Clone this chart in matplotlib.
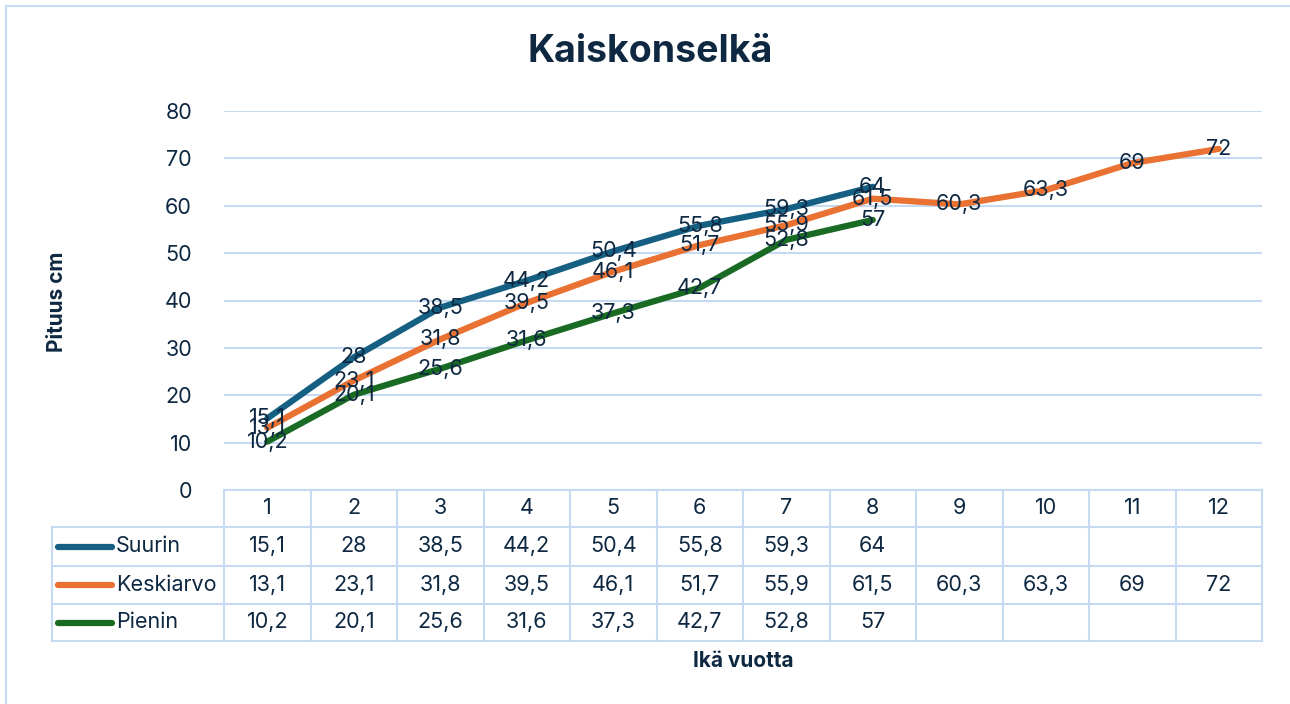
import matplotlib.pyplot as plt
from matplotlib.lines import Line2D
import matplotlib.transforms as mtransforms

# data
ages = [1, 2, 3, 4, 5, 6, 7, 8, 9, 10, 11, 12]
suurin = [15.1, 28, 38.5, 44.2, 50.4, 55.8, 59.3, 64]
keskiarvo = [13.1, 23.1, 31.8, 39.5, 46.1, 51.7, 55.9, 61.5, 60.3, 63.3, 69, 72]
pienin = [10.2, 20.1, 25.6, 31.6, 37.3, 42.7, 52.8, 57]
series_names = ['Suurin', 'Keskiarvo', 'Pienin']
series_colors = ['#156082', '#E97132', '#196B24']

TEXT = '#0E2841'
GRID = '#C6DAF2'
W, H = 1290, 704
FS = 15.5

plt.rcParams['font.family'] = ['Inter', 'DejaVu Sans']


def fmt(v):
    s = ('%.1f' % v).rstrip('0').rstrip('.')
    return s.replace('.', ',')


fig = plt.figure(figsize=(W / 100, H / 100), dpi=100)
fig.patch.set_facecolor('white')

# chart border (left and top visible)
fig.add_artist(Line2D([6 / W, 6 / W], [0, 1 - 6 / H], transform=fig.transFigure, color=GRID, lw=1.5))
fig.add_artist(Line2D([6 / W, 1], [1 - 6 / H, 1 - 6 / H], transform=fig.transFigure, color=GRID, lw=1.5))

left, right = 224 / W, 1262 / W
bottom, top = 1 - 490 / H, 1 - 111 / H
ax = fig.add_axes([left, bottom, right - left, top - bottom])
ax.set_xlim(0.5, 12.5)
ax.set_ylim(0, 80)
ax.set_yticks(range(0, 81, 10))
ax.set_xticks([])
for s in ax.spines.values():
    s.set_visible(False)
ax.tick_params(axis='y', length=0, pad=23, labelsize=FS, labelcolor=TEXT)
ax.grid(axis='y', color=GRID, lw=1.5)
ax.set_axisbelow(True)

all_series = [suurin, keskiarvo, pienin]
for vals, col in zip(all_series, series_colors):
    xs = ages[:len(vals)]
    ax.plot(xs, vals, color=col, lw=4.5, solid_capstyle='round', solid_joinstyle='round', zorder=3)
for vals in all_series:
    for x, v in zip(ages, vals):
        ax.text(x, v, fmt(v), ha='center', va='center', fontsize=FS, color=TEXT, zorder=4)

# title and axis titles
fig.text(650 / W, 1 - 52 / H, 'Kaiskonselkä', ha='center', va='center',
         fontsize=27, fontweight='bold', color=TEXT)
fig.text(57 / W, 1 - 302 / H, 'Pituus cm', ha='center', va='center', rotation=90,
         fontsize=15, fontweight='bold', color=TEXT)
fig.text(743 / W, 1 - 661 / H, 'Ikä vuotta', ha='center', va='center',
         fontsize=15, fontweight='bold', color=TEXT)

# data table below plot
axh = (top - bottom) * H  # axes height in px
def ay(py):
    return (490 - py) / axh

trans = mtransforms.blended_transform_factory(ax.transData, ax.transAxes)
ftrans = mtransforms.blended_transform_factory(fig.transFigure, ax.transAxes)
row_edges = [490, 527, 566, 604, 641]
tbl_left = 52 / W

kw = dict(color=GRID, lw=1.5, clip_on=False)
ax.add_line(Line2D([0.5, 12.5], [ay(490), ay(490)], transform=trans, **kw))
for py in row_edges[1:]:
    fig.add_artist(Line2D([tbl_left, right], [ay(py), ay(py)], transform=ftrans, color=GRID, lw=1.5))
for i in range(13):
    ax.add_line(Line2D([0.5 + i, 0.5 + i], [ay(490), ay(641)], transform=trans, **kw))
fig.add_artist(Line2D([tbl_left, tbl_left], [ay(527), ay(641)], transform=ftrans, color=GRID, lw=1.5))

for x in ages:
    ax.text(x, ay((490 + 527) / 2), str(x), transform=trans, ha='center', va='center',
            fontsize=FS, color=TEXT)
for r, (name, vals, col) in enumerate(zip(series_names, all_series, series_colors)):
    yc = ay((row_edges[r + 1] + row_edges[r + 2]) / 2)
    fig.add_artist(Line2D([58 / W, 112 / W], [yc, yc], transform=ftrans, color=col, lw=4.5,
                          solid_capstyle='round'))
    fig.text(116 / W, yc, name, transform=ftrans, ha='left', va='center', fontsize=FS, color=TEXT)
    for x, v in zip(ages, vals):
        ax.text(x, yc, fmt(v), transform=trans, ha='center', va='center', fontsize=FS, color=TEXT)

fig.savefig('out.png', dpi=100)
